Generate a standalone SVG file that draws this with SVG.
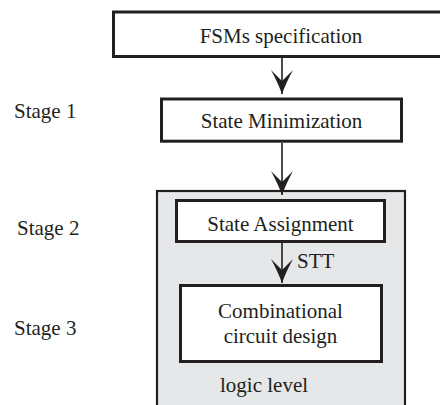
<svg xmlns="http://www.w3.org/2000/svg" width="440" height="405" viewBox="0 0 440 405">
  <style>
    .box { fill: #ffffff; stroke: #231f20; stroke-width: 3; }
    .panel { fill: #e6e7e8; stroke: #231f20; stroke-width: 2.2; }
    .lbl { font-family: "Liberation Serif", "Times New Roman", serif; font-size: 21px; fill: #231f20; }
    .mid { text-anchor: middle; }
    .edge { stroke: #231f20; stroke-width: 1.6; fill: none; marker-end: url(#head); }
  </style>
  <defs>
    <marker id="head" markerUnits="userSpaceOnUse" viewBox="-26 -12 27 24" markerWidth="27" markerHeight="24" refX="0" refY="0" orient="auto">
      <path d="M0,0 Q-11,-4 -24,-11 L-13,0 L-24,11 Q-11,4 0,0 Z" fill="#231f20"/>
    </marker>
  </defs>

  <rect width="440" height="405" fill="#ffffff"/>

  <!-- stage captions -->
  <g id="stage-labels">
    <text class="lbl" x="14" y="118">Stage 1</text>
    <text class="lbl" x="17" y="235">Stage 2</text>
    <text class="lbl" x="14" y="335">Stage 3</text>
  </g>

  <!-- logic-level panel -->
  <g id="logic-level">
    <rect class="panel" x="157" y="191" width="248" height="230"/>
    <text class="lbl" x="220" y="392">logic level</text>
  </g>

  <g id="fsm-spec">
    <rect class="box" x="113.5" y="12" width="340" height="44.5"/>
    <text class="lbl mid" x="281" y="43">FSMs specification</text>
  </g>

  <g id="state-min">
    <rect class="box" x="161.5" y="99" width="240" height="42.2"/>
    <text class="lbl mid" x="281.5" y="128">State Minimization</text>
  </g>

  <g id="state-assign">
    <rect class="box" x="176.5" y="200.5" width="208" height="41"/>
    <text class="lbl mid" x="280.5" y="230.5">State Assignment</text>
  </g>

  <g id="comb-design">
    <rect class="box" x="180.5" y="285.5" width="201" height="76"/>
    <text class="lbl mid" x="280.5" y="318">Combinational</text>
    <text class="lbl mid" x="280.5" y="343">circuit design</text>
  </g>

  <!-- connectors -->
  <g id="connectors">
    <line class="edge" x1="282" y1="58" x2="282" y2="94"/>
    <line class="edge" x1="282" y1="143" x2="282" y2="195"/>
    <line class="edge" x1="282" y1="243" x2="282" y2="283"/>
    <text class="lbl" x="297" y="268">STT</text>
  </g>
</svg>
